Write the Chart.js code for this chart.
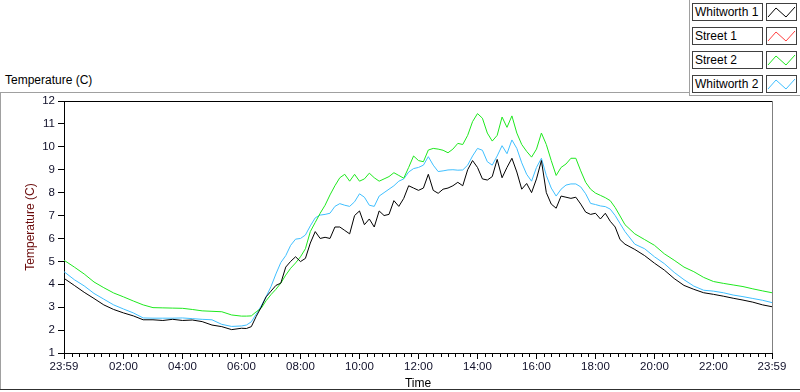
<!DOCTYPE html>
<html>
<head>
<meta charset="utf-8">
<script src="https://cdn.jsdelivr.net/npm/chart.js@4.4.1/dist/chart.umd.min.js"></script>
<style>
  html, body { margin: 0; padding: 0; background: #fff; }
  body { width: 800px; height: 392px; position: relative; overflow: hidden; font-family: "Liberation Sans", Arial, sans-serif; }
  #chart { position: absolute; left: 0; top: 0; }
  #plotTitle { position: absolute; left: 5px; top: 73px; font-size: 12px; color: #000; }
  .line { position: absolute; background: #a0a0a0; }
  .legend-label { position: absolute; left: 692px; width: 71px; height: 18px; box-sizing: border-box;
    border: 1px solid #404040; background: #fff; font-size: 12px; line-height: 16px; padding-left: 2px; color: #000; }
  .legend-swatch { position: absolute; left: 766px; width: 31px; height: 18px; box-sizing: border-box;
    border: 1px solid #404040; background: #fff; }
  .legend-swatch svg { position: absolute; left: 0; top: 0; }
</style>
</head>
<body>
<div id="plotTitle">Temperature (C)</div>
<div class="line" style="left:0;top:92px;width:689px;height:1px"></div>
<div class="line" style="left:689px;top:0;width:1px;height:96px"></div>
<div class="line" style="left:689px;top:95px;width:111px;height:1px"></div>
<div class="line" style="left:0;top:92px;width:1px;height:298px"></div>
<div class="line" style="left:0;top:389px;width:800px;height:1px;background:#303030"></div>
<div id="legend"></div>
<canvas id="chart" width="800" height="392"></canvas>
<script>
// sample times (first point is 23:59 of the previous day)
const TIMES = [
  '23:59', '00:20', '00:40', '01:00', '01:20', '01:40', '02:00', '02:20', '02:40', '03:00',
  '03:20', '03:40', '04:00', '04:20', '04:40', '05:00', '05:20', '05:40', '06:00',
  '06:10', '06:20', '06:30', '06:40', '06:50',
  '07:00', '07:10', '07:20', '07:30', '07:40', '07:50',
  '08:00', '08:10', '08:20', '08:30', '08:40', '08:50',
  '09:00', '09:10', '09:20', '09:30', '09:40', '09:50',
  '10:00', '10:10', '10:20', '10:30', '10:40', '10:50',
  '11:00', '11:10', '11:20', '11:30', '11:40', '11:50',
  '12:00', '12:10', '12:20', '12:30', '12:40', '12:50',
  '13:00', '13:10', '13:20', '13:30', '13:40', '13:50',
  '14:00', '14:10', '14:20', '14:30', '14:40', '14:50',
  '15:00', '15:10', '15:20', '15:30', '15:40', '15:50',
  '16:00', '16:10', '16:20', '16:30', '16:40', '16:50',
  '17:00', '17:10', '17:20', '17:30', '17:40', '17:50',
  '18:00', '18:10', '18:20', '18:30', '18:40', '18:50',
  '19:00',
  '19:20', '19:40', '20:00', '20:20', '20:40', '21:00', '21:20', '21:40', '22:00', '22:20',
  '22:40', '23:00', '23:20', '23:40', '23:59',
];

const WHITWORTH_1 = [
  4.26, 3.95, 3.65, 3.38, 3.1, 2.9, 2.75, 2.62, 2.45, 2.45,
  2.42, 2.47, 2.42, 2.44, 2.37, 2.22, 2.15, 2.02, 2.08,
  2.07, 2.15, 2.6, 3.0, 3.45,
  3.7, 3.95, 4.05, 4.75, 5.0, 5.2,
  4.99, 5.13, 5.8, 6.3, 6.0, 6.05,
  6.0, 6.5, 6.5, 6.35, 6.2, 7.0,
  7.2, 6.6, 6.85, 6.5, 7.2, 7.0,
  7.05, 7.65, 7.4, 7.75, 8.3, 8.2,
  8.1, 8.2, 8.8, 8.1, 7.97, 8.15,
  8.2, 8.3, 8.45, 8.3, 9.0, 9.4,
  9.1, 8.6, 8.55, 8.7, 9.45, 8.65,
  9.1, 9.5, 8.9, 8.15, 8.4, 8.0,
  8.6, 9.4, 8.0, 7.5, 7.32, 7.85,
  7.8, 7.75, 7.8, 7.5, 7.15, 7.05,
  7.1, 6.85, 7.1, 6.75, 6.5, 5.95,
  5.75,
  5.52, 5.25, 4.92, 4.62, 4.25, 3.95, 3.78, 3.63, 3.56, 3.48,
  3.39, 3.31, 3.22, 3.1, 3.02,
];

// Street 1 has no trace visible on the plot
const STREET_1 = [];

const STREET_2 = [
  5.05, 4.75, 4.45, 4.1, 3.85, 3.62, 3.45, 3.27, 3.1, 2.98,
  2.97, 2.96, 2.95, 2.9, 2.84, 2.82, 2.8, 2.66, 2.61,
  2.61, 2.62, 2.8, 2.95, 3.28,
  3.55, 3.78, 4.05, 4.4, 4.7, 4.93,
  5.2, 5.55, 6.3, 6.7, 7.1, 7.45,
  7.9, 8.3, 8.65, 8.8, 8.5, 8.8,
  8.5, 8.6, 8.85, 8.65, 8.5, 8.6,
  8.7, 8.87, 8.75, 8.63, 9.1, 9.6,
  9.4, 9.35, 9.86, 9.93, 9.9, 9.85,
  9.74, 9.9, 10.15, 10.1, 10.5, 11.1,
  11.45, 11.25, 10.6, 10.25, 10.5, 11.3,
  10.85, 11.35, 10.6, 10.1, 9.8, 9.55,
  9.9, 10.6, 10.1, 9.4, 8.75, 9.1,
  9.25, 9.5, 9.5, 8.95, 8.45, 8.15,
  7.98, 7.88, 7.78, 7.65, 7.35, 6.98,
  6.6,
  6.2, 5.95, 5.7, 5.33, 5.05, 4.75, 4.55, 4.3, 4.12, 4.04,
  3.97, 3.9, 3.8, 3.71, 3.63,
];

const WHITWORTH_2 = [
  4.55, 4.2, 3.93, 3.6, 3.35, 3.1, 2.92, 2.75, 2.53, 2.52,
  2.52, 2.52, 2.53, 2.5, 2.47, 2.45, 2.25, 2.16, 2.18,
  2.22, 2.36, 2.7, 3.05, 3.45,
  3.9, 4.45, 4.95, 5.25, 5.7, 5.97,
  6.0, 6.15, 6.55, 6.9, 7.02, 7.05,
  7.1, 7.4, 7.52, 7.45, 7.4, 7.6,
  7.95, 7.8, 7.45, 7.4, 7.85, 8.0,
  8.15, 8.3, 8.5, 8.6, 8.9, 9.05,
  9.1, 9.2, 9.57, 9.2, 8.92, 8.95,
  8.99, 9.0, 8.98, 8.99, 9.2, 9.6,
  9.93, 9.85, 9.35, 9.2, 9.6, 10.05,
  9.7, 10.3, 9.93, 9.3, 8.8, 8.5,
  9.1, 9.5, 8.75, 8.2, 7.85, 8.15,
  8.33, 8.38, 8.38, 8.25, 7.95, 7.53,
  7.48, 7.42, 7.39, 7.28, 7.0, 6.65,
  6.3,
  5.75, 5.55, 5.2, 4.9, 4.52, 4.2, 3.92, 3.74, 3.7, 3.63,
  3.53, 3.46, 3.38, 3.3, 3.2,
];

const SERIES_NAMES = ['Whitworth 1', 'Street 1', 'Street 2', 'Whitworth 2'];
const SERIES_COLORS = ['#000000', '#ff4040', '#1ee81e', '#3fbfff'];

const X_TICK_VALUES = [-1, 120, 240, 360, 480, 600, 720, 840, 960, 1080, 1200, 1320, 1439];
const X_TICK_LABELS = ['23:59', '02:00', '04:00', '06:00', '08:00', '10:00', '12:00',
  '14:00', '16:00', '18:00', '20:00', '22:00', '23:59'];

function toMinutes(s, i) {
  const [h, m] = s.split(':').map(Number);
  return i === 0 ? h * 60 + m - 1440 : h * 60 + m;
}
const MINUTES = TIMES.map(toMinutes);

function points(values) {
  return values.map((v, i) => ({ x: MINUTES[i], y: v }));
}

// legend boxes, top-right
const legendEl = document.getElementById('legend');
SERIES_NAMES.forEach((name, i) => {
  const top = 3 + i * 24;
  legendEl.insertAdjacentHTML('beforeend',
    `<div class="legend-label" style="top:${top}px">${name}</div>` +
    `<div class="legend-swatch" style="top:${top}px"><svg width="29" height="16">` +
    `<polyline points="1,13 9,4 19,13 28,3" fill="none" stroke="${SERIES_COLORS[i]}" stroke-width="1"/></svg></div>`);
});

// top/right plot border and 15-minute minor ticks
const plotFrame = {
  id: 'plotFrame',
  afterDraw(chart) {
    const { ctx, chartArea: a, scales: { x } } = chart;
    ctx.save();
    ctx.lineWidth = 1;
    ctx.strokeStyle = '#000';
    ctx.beginPath();
    ctx.moveTo(a.left, a.top + 0.5);
    ctx.lineTo(a.right, a.top + 0.5);
    ctx.stroke();
    ctx.strokeStyle = '#808080';
    ctx.beginPath();
    ctx.moveTo(a.right + 0.5, a.top);
    ctx.lineTo(a.right + 0.5, a.bottom);
    ctx.stroke();
    ctx.strokeStyle = '#000';
    ctx.beginPath();
    for (let m = 15; m < 1440; m += 15) {
      if (m % 120 === 0) continue;
      const px = Math.round(x.getPixelForValue(m)) + 0.5;
      ctx.moveTo(px, a.bottom);
      ctx.lineTo(px, a.bottom + 4);
    }
    ctx.stroke();
    ctx.restore();
  },
};

const SERIES_DATA = [WHITWORTH_1, STREET_1, STREET_2, WHITWORTH_2];
const TICK_FONT = { family: 'Liberation Sans', size: 11.5 };

new Chart(document.getElementById('chart'), {
  type: 'line',
  data: {
    datasets: SERIES_NAMES.map((name, i) => ({
      label: name,
      data: points(SERIES_DATA[i]),
      borderColor: SERIES_COLORS[i],
      borderWidth: 1,
      pointRadius: 0,
      tension: 0,
      fill: false,
    })),
  },
  options: {
    responsive: false,
    animation: false,
    layout: { padding: { top: 101, right: 28, left: 0, bottom: 0 } },
    plugins: { legend: { display: false }, tooltip: { enabled: false } },
    scales: {
      x: {
        type: 'linear',
        min: -1,
        max: 1439,
        afterFit: (scale) => { scale.height = 39; },
        afterBuildTicks: (scale) => { scale.ticks = X_TICK_VALUES.map((v) => ({ value: v })); },
        ticks: {
          autoSkip: false,
          maxRotation: 0,
          padding: 1,
          color: '#10102a',
          font: TICK_FONT,
          callback: (v) => X_TICK_LABELS[X_TICK_VALUES.indexOf(v)],
        },
        grid: { drawOnChartArea: false, tickLength: 6, color: '#000' },
        border: { color: '#000' },
        title: {
          display: true,
          text: 'Time',
          color: '#000',
          font: { family: 'Liberation Sans', size: 12 },
          padding: { top: 0, bottom: 1 },
        },
      },
      y: {
        min: 1,
        max: 12,
        afterFit: (scale) => { scale.width = 64; },
        ticks: {
          stepSize: 1,
          padding: 3,
          color: '#10102a',
          font: TICK_FONT,
        },
        grid: { drawOnChartArea: false, tickLength: 6, color: '#000' },
        border: { color: '#000' },
        title: {
          display: true,
          text: 'Temperature (C)',
          color: '#6a0a0a',
          font: { family: 'Liberation Sans', size: 12 },
          padding: { top: 23, bottom: 0 },
        },
      },
    },
  },
  plugins: [plotFrame],
});
</script>
</body>
</html>
